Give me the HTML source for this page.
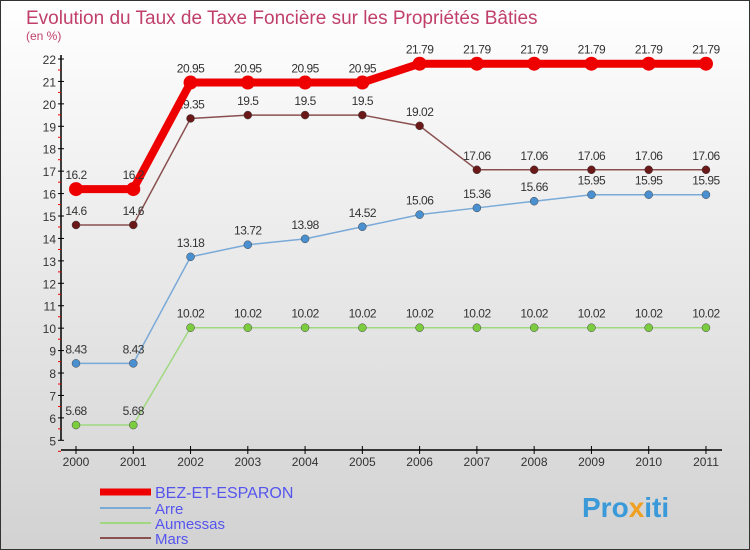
<!DOCTYPE html>
<html><head><meta charset="utf-8"><style>
body{margin:0}
#c{position:relative;width:750px;height:550px;overflow:hidden;font-family:"Liberation Sans",sans-serif}
</style></head><body>
<div id="c">
<svg width="750" height="550" xmlns="http://www.w3.org/2000/svg" id="svg">
<defs><linearGradient id="bg" x1="0" y1="0" x2="0" y2="1"><stop offset="0" stop-color="#ffffff"/><stop offset="1" stop-color="#d2d2d2"/></linearGradient></defs>
<rect x="0.5" y="0.5" width="749" height="549" fill="url(#bg)" stroke="#333"/>
<text x="26" y="24" font-size="19" fill="#c0406a">Evolution du Taux de Taxe Foncière sur les Propriétés Bâties</text>
<text x="26" y="40" font-size="12" fill="#c0406a">(en %)</text>
<g id="axes"></g><g id="series"></g><g id="legend"></g>
<text x="582" y="517" font-size="28" font-weight="bold" fill="#3a9ad9">Pro<tspan fill="#f0a020">x</tspan>iti</text>
</svg></div>
<script>
const years=["2000","2001","2002","2003","2004","2005","2006","2007","2008","2009","2010","2011"];
const yTicks=[5,6,7,8,9,10,11,12,13,14,15,16,17,18,19,20,21,22];
const bez=[16.2,16.2,20.95,20.95,20.95,20.95,21.79,21.79,21.79,21.79,21.79,21.79];
const arre=[8.43,8.43,13.18,13.72,13.98,14.52,15.06,15.36,15.66,15.95,15.95,15.95];
const aumessas=[5.68,5.68,10.02,10.02,10.02,10.02,10.02,10.02,10.02,10.02,10.02,10.02];
const mars=[14.6,14.6,19.35,19.5,19.5,19.5,19.02,17.06,17.06,17.06,17.06,17.06];
const NS="http://www.w3.org/2000/svg";
const X=i=>76+i*57.27, Y=v=>59+(22-v)*22.43;
function mk(t,a,p){const e=document.createElementNS(NS,t);for(const k in a)e.setAttribute(k,a[k]);p.appendChild(e);return e;}
const ax=document.getElementById('axes');
let e=mk('line',{x1:61,y1:55,x2:61,y2:440,stroke:'#000','stroke-width':1.5},ax);


e=mk('line',{x1:61,y1:450,x2:722,y2:450,stroke:'#000','stroke-width':1.5},ax);


yTicks.forEach(v=>{mk('line',{x1:58,y1:Y(v),x2:64,y2:Y(v),stroke:'#000'},ax);
 mk('line',{x1:58,y1:Y(v)+11,x2:61,y2:Y(v)+11,stroke:'#e00'},ax);
 const t=mk('text',{x:56,y:Y(v)+5,'font-size':12,'text-anchor':'end',fill:'#333'},ax);t.textContent=v;
 
 });
years.forEach((y,i)=>{mk('line',{x1:X(i),y1:446,x2:X(i),y2:454,stroke:'#000'},ax);
 const t=mk('text',{x:X(i),y:466,'font-size':12,'text-anchor':'middle',fill:'#333'},ax);t.textContent=y;
 
 });
const sg=document.getElementById('series');
function draw(d,col,w,r,dot,name){
 const g=mk('g',{},sg);
 
 
 mk('polyline',{points:d.map((v,i)=>X(i)+','+Y(v)).join(' '),fill:'none',stroke:col,'stroke-width':w,'stroke-linejoin':'round'},g);
 d.forEach((v,i)=>{const c=mk('circle',{cx:X(i),cy:Y(v),r:r,fill:dot,stroke:r>5?'none':'#444','stroke-width':0.5},g);
  
  
  const t=mk('text',{x:X(i),y:Y(v)-10,'font-size':12,'text-anchor':'middle',fill:'#333','letter-spacing':'-0.5'},g);t.textContent=v;
  
  });
}
draw(aumessas,'#a0d880',1.5,4,'#7ccc40','aumessas-series');
draw(arre,'#7aaad8',1.5,4,'#4a90d0','arre-series');
draw(mars,'#8a5050',1.5,4,'#6a1818','mars-series');
draw(bez,'#ee0000',8,7,'#ee0000','bez-series');
const lg=document.getElementById('legend');
[['BEZ-ET-ESPARON','#ee0000',7,492],['Arre','#7aaad8',2,508],['Aumessas','#a0d880',2,523],['Mars','#8a5050',2,538]].forEach(([n,c,w,y])=>{
 const g=mk('g',{},lg);
 
 
 mk('line',{x1:100,y1:y,x2:151,y2:y,stroke:c,'stroke-width':w},g);
 const t=mk('text',{x:155,y:y+6,'font-size':n.length>10?16:15,fill:'#5555ee'},g);t.textContent=n;});
</script>
</body></html>
